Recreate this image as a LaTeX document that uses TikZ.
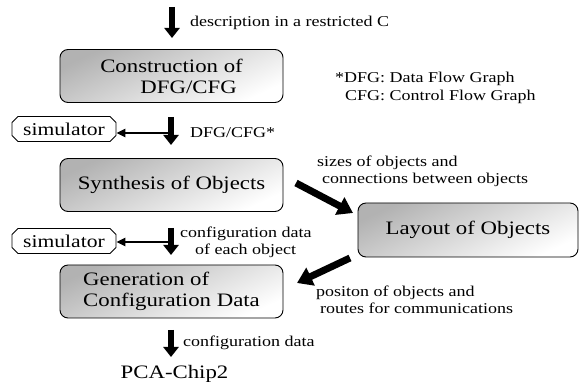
\documentclass[tikz,border=0pt]{standalone}
\usepackage{fontspec}
\setmainfont{Liberation Serif}[FakeStretch=1.2]
\usetikzlibrary{arrows.meta,shapes.misc}
\begin{document}
\begin{tikzpicture}[x=1pt,y=-1pt,
  stage/.style={draw, line width=0.9pt, rounded corners=8pt,
    top color=black!30, bottom color=white, shading angle=25,
    minimum width=223pt, minimum height=53pt, inner sep=0pt,
    font=\fontsize{19}{21}\selectfont},
  sim/.style={draw, line width=0.9pt, chamfered rectangle,
    chamfered rectangle sep=3pt, minimum width=104pt, minimum height=25pt,
    inner sep=0pt, font=\fontsize{18}{20}\selectfont},
  lbl/.style={anchor=base west, inner sep=0pt, font=\fontsize{15}{17}\selectfont},
  flow/.style={line width=6pt, -{Triangle[width=15pt,length=10pt]}},
  tosim/.style={line width=2.2pt, -{Triangle[width=8pt,length=9pt]}},
  side/.style={line width=7pt, -{Triangle[width=19pt,length=15pt]}}]
\useasboundingbox (0,0) rectangle (579,382);

% main stages
\node[stage, align=right] (cons) at (171.5,76) {Construction of\\DFG/CFG\hspace*{6pt}};
\node[stage] (synth) at (171.5,185) {Synthesis of Objects};
\node[stage, align=left] (gen) at (171.5,291.5) {Generation of\\Configuration Data};
\node[stage, minimum width=220pt, minimum height=54pt] (lay) at (468,230) {Layout of Objects};

% simulators
\node[sim] (sim1) at (64,129) {simulator};
\node[sim] (sim2) at (64,241) {simulator};

% vertical flow arrows
\coordinate (a1s) at (172,7);   \coordinate (a1e) at (172,38);
\coordinate (a2s) at (171,117); \coordinate (a2e) at (171,145); \coordinate (a2m) at (171,133);
\coordinate (a3s) at (171,228); \coordinate (a3e) at (171,255); \coordinate (a3m) at (171,242);
\coordinate (a4s) at (171,330); \coordinate (a4e) at (171,357);
\draw[flow] (a1s) -- (a1e);
\draw[flow] (a2s) -- (a2e);
\draw[flow] (a3s) -- (a3e);
\draw[flow] (a4s) -- (a4e);
\draw[tosim] (a2m) -- (sim1.east |- a2m);
\draw[tosim] (a3m) -- (sim2.east |- a3m);

% arrows to and from the layout step
\coordinate (d1s) at (296,183); \coordinate (d1e) at (353,213);
\coordinate (d2s) at (350,258); \coordinate (d2e) at (297,283);
\draw[side] (d1s) -- (d1e);
\draw[side] (d2s) -- (d2e);

% labels
\node[lbl] (t1) at (190,27) {description in a restricted C};
\node[lbl] (t2) at (335,83) {*DFG: Data Flow Graph};
\node[lbl] (t3) at (345,101) {CFG: Control Flow Graph};
\node[lbl] (t4) at (190,138) {DFG/CFG*};
\node[lbl] (t5) at (317,167) {sizes of objects and};
\node[lbl] (t6) at (322,184) {connections between objects};
\node[lbl] (t7) at (180,238) {configuration data};
\node[lbl] (t8) at (195,255) {of each object};
\node[lbl] (t9) at (316,297) {positon of objects and};
\node[lbl] (t10) at (320,314) {routes for communications};
\node[lbl] (t11) at (183,347) {configuration data};
\node[anchor=base, inner sep=0pt, font=\fontsize{19}{20}\selectfont] (chip) at (174.5,378) {PCA-Chip2};
\end{tikzpicture}
\end{document}
